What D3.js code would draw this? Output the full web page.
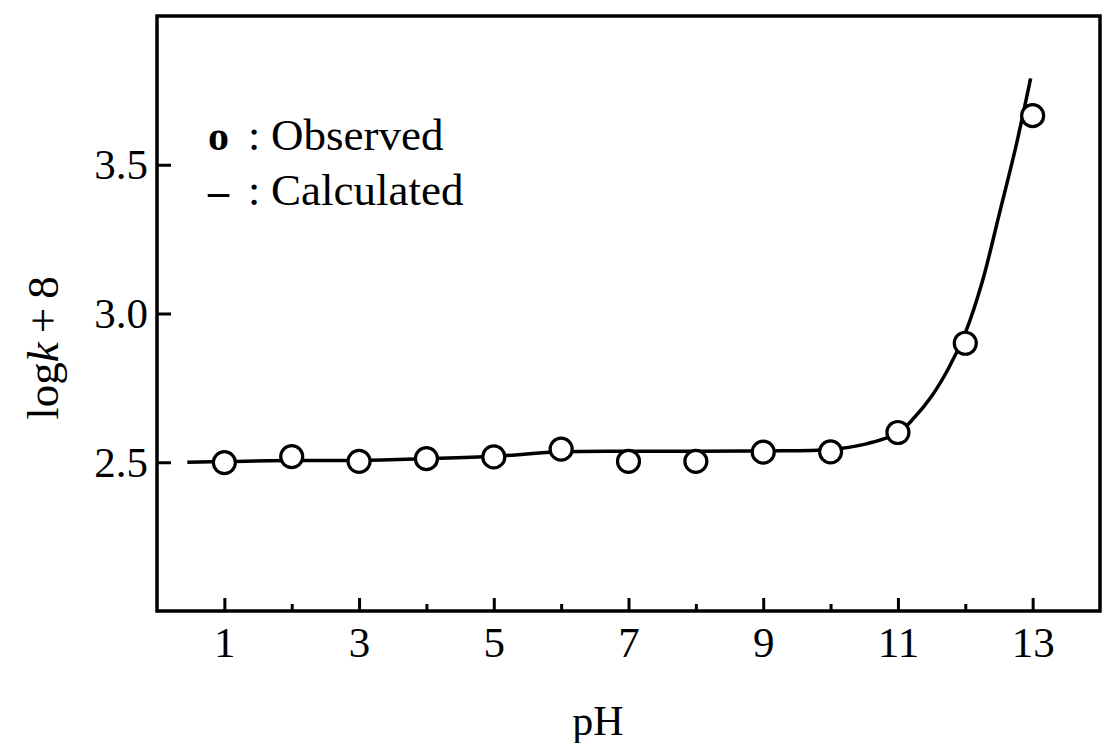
<!DOCTYPE html>
<html>
<head>
<meta charset="utf-8">
<script src="https://cdn.jsdelivr.net/npm/d3@7"></script>
<style>
  body { margin: 0; background: #fff; }
  text { font-family: "Liberation Serif", "DejaVu Serif", serif; fill: #000; }
</style>
</head>
<body>
<script>
// observed points
var pH = [1, 2, 3, 4, 5, 6, 7, 8, 9, 10, 11, 12, 13];
var observed = [2.499, 2.519, 2.503, 2.512, 2.518, 2.544, 2.503, 2.503, 2.534, 2.535, 2.600, 2.900, 3.665];

// calculated curve
var calcPH = [0.45, 1, 2, 3, 4, 5, 6, 7, 8, 9, 10, 10.5, 11, 11.25, 11.5, 11.75, 12, 12.25, 12.5, 12.75, 12.97];
var calculated = [2.500, 2.502, 2.506, 2.506, 2.512, 2.520, 2.535, 2.537, 2.537, 2.538, 2.543, 2.560, 2.598, 2.652, 2.722, 2.815, 2.935, 3.105, 3.330, 3.560, 3.790];

var xMajor = [1, 3, 5, 7, 9, 11, 13];
var xMinor = [2, 4, 6, 8, 10, 12];
var yTicks = [2.5, 3.0, 3.5];

var W = 1108, H = 743;

var x = d3.scaleLinear().domain([0, 14]).range([157, 1100]);
var y = d3.scaleLinear().domain([2.0, 4.0]).range([611, 16]);

var svg = d3.select('body').append('svg')
    .attr('width', W)
    .attr('height', H);

// frame
svg.append('rect')
    .attr('x', x(0))
    .attr('y', y(4))
    .attr('width', x(14) - x(0))
    .attr('height', y(2) - y(4))
    .attr('fill', 'none')
    .attr('stroke', '#000')
    .attr('stroke-width', 3.5);

// bottom axis, ticks pointing inward
svg.append('g')
    .attr('transform', 'translate(0,' + y(2) + ')')
    .call(d3.axisBottom(x).tickValues(xMajor).tickSize(-13).tickPadding(15).tickFormat(d3.format('d')));
svg.append('g')
    .attr('transform', 'translate(0,' + y(2) + ')')
    .call(d3.axisBottom(x).tickValues(xMinor).tickSize(-7).tickFormat(''));

svg.append('g')
    .attr('transform', 'translate(' + x(0) + ',0)')
    .call(d3.axisLeft(y).tickValues(yTicks).tickSize(-14).tickPadding(9).tickFormat(d3.format('.1f')));

svg.selectAll('.domain').remove();
svg.selectAll('.tick line').attr('stroke', '#000').attr('stroke-width', 3);
svg.selectAll('.tick text')
    .attr('font-size', 43)
    .attr('font-family', '"Liberation Serif", serif');

// calculated line
var line = d3.line()
    .x(function(d, i) { return x(calcPH[i]); })
    .y(function(d) { return y(d); })
    .curve(d3.curveCatmullRom.alpha(0.5));

svg.append('path')
    .datum(calculated)
    .attr('d', line)
    .attr('fill', 'none')
    .attr('stroke', '#000')
    .attr('stroke-width', 3.5);

// observed circles
svg.selectAll('.dot')
    .data(observed)
  .enter().append('circle')
    .attr('class', 'dot')
    .attr('r', 11)
    .attr('cx', function(d, i) { return x(pH[i]); })
    .attr('cy', function(d) { return y(d); })
    .attr('fill', '#fff')
    .attr('stroke', '#000')
    .attr('stroke-width', 3.2);

// legend
var legend = [
  { sym: 'o', label: 'Observed', yy: 150 },
  { sym: '\u2013', label: 'Calculated', yy: 205 }
];
var lg = svg.selectAll('.legend')
    .data(legend)
  .enter().append('g')
    .attr('class', 'legend');
lg.append('text')
    .attr('x', 208).attr('y', function(d) { return d.yy; })
    .attr('font-size', 42).attr('font-weight', 'bold')
    .text(function(d) { return d.sym; });
lg.append('text')
    .attr('x', 248).attr('y', function(d) { return d.yy; })
    .attr('font-size', 44)
    .text(':');
lg.append('text')
    .attr('x', 271).attr('y', function(d) { return d.yy; })
    .attr('font-size', 45)
    .text(function(d) { return d.label; });

// axis titles
svg.append('text')
    .attr('x', 598).attr('y', 735)
    .attr('text-anchor', 'middle')
    .attr('font-size', 42)
    .text('pH');

var yl = svg.append('text')
    .attr('transform', 'translate(58,348) rotate(-90)')
    .attr('text-anchor', 'middle')
    .attr('font-size', 45);
yl.append('tspan').text('log');
yl.append('tspan').attr('font-style', 'italic').text('k');
yl.append('tspan').text('\u2009+\u20098');
</script>
</body>
</html>
